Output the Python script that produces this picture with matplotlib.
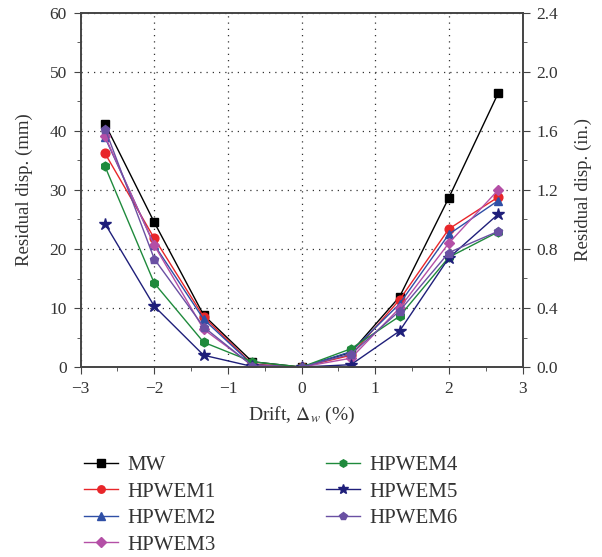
import matplotlib
matplotlib.use("Agg")
import matplotlib.pyplot as plt
from matplotlib.ticker import MultipleLocator, FormatStrFormatter

plt.rcParams['font.family'] = 'Liberation Serif'
plt.rcParams['mathtext.fontset'] = 'stix'

# drift levels (%)
drift = [-2.67, -2.0, -1.33, -0.67, 0.0, 0.67, 1.33, 2.0, 2.67]

# residual displacement (mm)
mw      = [41.2, 24.5, 8.8, 0.9, 0.0, 2.5, 11.9, 28.7, 46.4]
hpwem1  = [36.2, 21.8, 8.5, 0.5, 0.0, 2.0, 11.4, 23.4, 28.8]
hpwem2  = [38.9, 20.7, 8.1, 0.4, 0.0, 2.6, 10.7, 22.5, 28.2]
hpwem3  = [39.1, 20.6, 6.4, 0.3, 0.0, 1.5, 10.0, 21.0, 30.0]
hpwem4  = [34.0, 14.2, 4.2, 0.9, 0.0, 3.1, 8.6, 18.6, 22.9]
hpwem5  = [24.3, 10.3, 2.0, 0.1, 0.0, 0.4, 6.1, 18.5, 25.9]
hpwem6  = [40.4, 18.3, 6.8, 0.2, 0.0, 2.2, 9.5, 19.4, 23.0]

series = [
    ('MW', mw, 'black', 's'),
    ('HPWEM1', hpwem1, '#e8262a', 'o'),
    ('HPWEM2', hpwem2, '#2f4fa6', '^'),
    ('HPWEM3', hpwem3, '#b44fa6', 'D'),
    ('HPWEM4', hpwem4, '#1f8a3c', 'h'),
    ('HPWEM5', hpwem5, '#1f1f7a', '*'),
    ('HPWEM6', hpwem6, '#6a50a3', 'p'),
]

fig = plt.figure(figsize=(6.02, 5.57), dpi=100)
ax = fig.add_axes([0.134, 0.341, 0.734, 0.636])

for name, vals, col, mk in series:
    ms = 6.3
    if mk == '*':
        ms = 9
    elif mk == 'D':
        ms = 5.5
    ax.plot(drift, vals, color=col, marker=mk, markersize=ms, lw=1.0,
            label=name, markeredgecolor=col)

tick_col = '#333333'
ax.set_xlim(-3, 3)
ax.set_ylim(0, 60)
ax.xaxis.set_major_locator(MultipleLocator(1))
ax.xaxis.set_minor_locator(MultipleLocator(0.5))
ax.yaxis.set_major_locator(MultipleLocator(10))
ax.yaxis.set_minor_locator(MultipleLocator(5))
ax.grid(True, which='major', linestyle=(0, (1, 4)), color='#333333', lw=0.9)
ax.tick_params(which='both', direction='out', labelsize=12.5, color='#444444',
               labelcolor=tick_col)
ax.tick_params(which='major', length=5, pad=5)
ax.tick_params(which='minor', length=3)
ax.set_xticks([-3, -2, -1, 0, 1, 2, 3])
ax.set_xticklabels(['\u22123', '\u22122', '\u22121', '0', '1', '2', '3'])
ax.set_xlabel(r'Drift, $\Delta_w$ (%)', fontsize=14, color=tick_col, labelpad=6)
ax.set_ylabel('Residual disp. (mm)', fontsize=13.5, color=tick_col, labelpad=12)
for s in ax.spines.values():
    s.set_color('#444444')
    s.set_linewidth(1.2)

ax2 = ax.twinx()
ax2.set_ylim(0, 2.4)
ax2.yaxis.set_major_locator(MultipleLocator(0.4))
ax2.yaxis.set_minor_locator(MultipleLocator(0.2))
ax2.yaxis.set_major_formatter(FormatStrFormatter('%.1f'))
ax2.tick_params(which='both', direction='out', labelsize=12.5, color='#444444',
                labelcolor=tick_col)
ax2.tick_params(which='major', length=5, pad=5)
ax2.tick_params(which='minor', length=3)
ax2.set_ylabel('Residual disp. (in.)', fontsize=13.5, color=tick_col, labelpad=12)
for s in ax2.spines.values():
    s.set_color('#444444')
    s.set_linewidth(1.2)

handles, labels = ax.get_legend_handles_labels()
fig.legend(handles, labels, loc='upper left', bbox_to_anchor=(0.126, 0.197),
           ncol=2, frameon=False, fontsize=15, handlelength=1.6,
           handletextpad=0.48, markerscale=0.85, labelcolor=tick_col,
           columnspacing=5.3, labelspacing=0.33, borderaxespad=0)

fig.savefig('out.png', dpi=100)
